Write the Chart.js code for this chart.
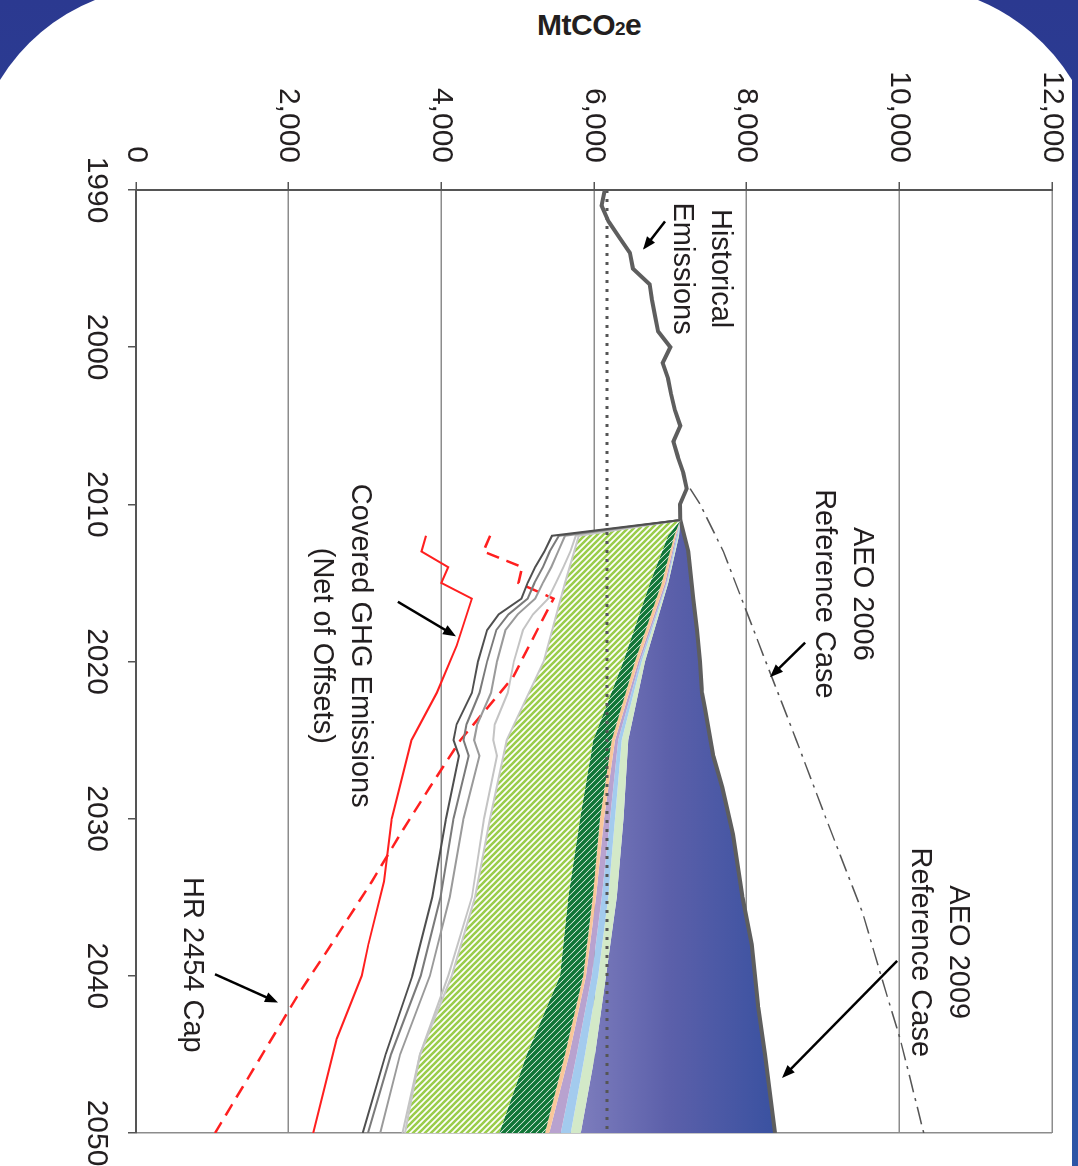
<!DOCTYPE html>
<html>
<head>
<meta charset="utf-8">
<script src="https://cdn.jsdelivr.net/npm/chart.js@4.4.1/dist/chart.umd.min.js"></script>
<style>
  html, body { margin: 0; padding: 0; }
  body { width: 1078px; height: 1166px; position: relative; overflow: hidden; background: #fff;
         font-family: 'Liberation Sans', Arial, sans-serif; }
  #bg { position: absolute; left: 0; top: 0; }
  #title { position: absolute; left: 537px; top: 10px; font-weight: bold; font-size: 30px; line-height: 30px;
           color: #231f20; letter-spacing: -0.5px; white-space: nowrap; }
  #title span { font-size: 19px; }
  #wrap { position: absolute; left: 1078px; top: 0; width: 1166px; height: 1078px;
          transform-origin: 0 0; transform: rotate(90deg); }
</style>
</head>
<body>
<svg id="bg" width="1078" height="1166">
  <defs>
    <linearGradient id="edge" x1="0" y1="0" x2="0" y2="1">
      <stop offset="0" stop-color="#2b3990"/>
      <stop offset="1" stop-color="#2d55a6"/>
    </linearGradient>
  </defs>
  <rect x="0" y="0" width="1078" height="1166" fill="url(#edge)"/>
  <path d="M0 80 A196 196 0 0 1 95 0 L978 0 A200 200 0 0 1 1072 80 L1072 1166 L0 1166 Z" fill="#fff"/>
</svg>
<div id="title">MtCO<span>2</span>e</div>
<div id="wrap"><canvas id="ghgChart" width="1166" height="1078"></canvas></div>

<script>
// historical emissions
const histYears = [1990, 1991, 1992, 1993, 1994, 1995, 1996, 1997, 1998, 1999, 2000,
                   2001, 2002, 2003, 2004, 2005, 2006, 2007, 2008, 2009, 2010, 2011];
const histValues = [6140, 6100, 6190, 6330, 6470, 6510, 6730, 6760, 6800, 6840, 7000,
                    6900, 6970, 7010, 7060, 7130, 7040, 7100, 7170, 7215, 7127, 7130];

// AEO 2009 reference case (top of the wedges)
const refYears = [2011, 2013, 2016, 2018, 2020, 2022, 2023, 2026, 2028, 2031, 2035, 2038, 2042, 2045, 2050];
const refValues = [7130, 7236, 7300, 7350, 7389, 7415, 7455, 7563, 7680, 7820, 7945, 8066, 8153, 8240, 8371];

// AEO 2006 reference case
const aeo06Years = [2009, 2010, 2013, 2020, 2025, 2030, 2036, 2040, 2044, 2050];
const aeo06Values = [7260, 7390, 7695, 8250, 8650, 9040, 9520, 9760, 10010, 10320];

// 1990 level
const levelYears = [1990, 2050];
const levelValues = [6170, 6170];

// wedge boundaries, low to high
const stackYears = [2011, 2012, 2015, 2020, 2025, 2030, 2035, 2040, 2045, 2050];
const hatchLow     = [7130, 5800, 5620, 5340, 4856, 4638, 4441, 4136, 3721, 3524];
const lightDark    = [7130, 6970, 6734, 6384, 5990, 5817, 5664, 5555, 5118, 4760];
const darkOrange   = [7130, 7050, 6887, 6537, 6231, 6079, 5982, 5860, 5620, 5358];
const orangePurple = [7130, 7070, 6930, 6581, 6275, 6131, 6026, 5895, 5677, 5415];
const purpleBlue   = [7130, 7085, 6950, 6603, 6319, 6210, 6101, 5970, 5773, 5564];
const blueGreen    = [7130, 7100, 6960, 6625, 6363, 6275, 6188, 6056, 5882, 5695];
const greenTop     = [7130, 7115, 6974, 6668, 6450, 6385, 6297, 6157, 6013, 5826];

// scenario lines (grey)
const scenYears = [2011, 2012, 2013, 2014, 2015, 2016, 2017, 2018, 2020, 2022, 2024, 2025, 2026, 2030, 2035, 2040, 2045, 2050];
const scenA = [7130, 5450, 5350, 5230, 5130, 5050, 4750, 4600, 4480, 4400, 4200, 4160, 4230, 4060, 3880, 3620, 3270, 2970];
const scenB = [7130, 5540, 5420, 5330, 5220, 5130, 4880, 4720, 4600, 4500, 4330, 4290, 4360, 4160, 3990, 3730, 3340, 3040];
const scenC = [7130, 5620, 5530, 5440, 5330, 5230, 5000, 4840, 4730, 4650, 4470, 4430, 4500, 4290, 4110, 3850, 3460, 3200];
const scenD = [7130, 5760, 5690, 5600, 5500, 5400, 5200, 5070, 4950, 4870, 4700, 4680, 4730, 4560, 4400, 4090, 3720, 3490];

// covered GHG emissions (net of offsets)
const covYears = [2012, 2013, 2014, 2015, 2016, 2019, 2022, 2025, 2030, 2034, 2038, 2040, 2044, 2050];
const covValues = [3800, 3740, 4090, 4000, 4400, 4200, 3940, 3610, 3350, 3250, 3044, 2957, 2630, 2323];

// HR 2454 cap
const capYears = [2012, 2013, 2014, 2015, 2016, 2019, 2021, 2025, 2028, 2031, 2034, 2038, 2041, 2050];
const capValues = [4640, 4550, 5060, 5010, 5470, 5150, 4940, 4250, 3850, 3460, 3090, 2560, 2150, 1035];

const yearTicks = [1990, 2000, 2010, 2020, 2030, 2040, 2050];

// labels placed in data units: [year, value]
const notes = [
    { lines: ['Historical', 'Emissions'], at: [1995.0, 7651], arrow: [[1992.0, 6930], [1993.8, 6642]] },
    { lines: ['AEO 2006', 'Reference Case'], at: [2015.7, 9511], arrow: [[2018.8, 8765], [2021.0, 8306]] },
    { lines: ['AEO 2009', 'Reference Case'], at: [2038.5, 10769], arrow: [[2039.05, 9970], [2046.5, 8463]] },
    { lines: ['Covered GHG Emissions', '(Net of Offsets)'], at: [2019.0, 2935], arrow: [[2016.2, 3432], [2018.4, 4192]] },
    { lines: ['HR 2454 Cap'], at: [2039.3, 734], arrow: [[2039.9, 1035], [2041.7, 1860]] }
];

const pts = (xs, ys) => xs.map((x, i) => ({ x, y: ys[i] }));

const makeHatch = (bg, fg, width) => {
    const s = 6;
    const c = document.createElement('canvas');
    c.width = s; c.height = s;
    const g = c.getContext('2d');
    g.fillStyle = bg;
    g.fillRect(0, 0, s, s);
    g.strokeStyle = fg;
    g.lineWidth = width;
    g.beginPath();
    for (let k = -1; k <= 1; k++) {
        g.moveTo(k * s - 1, -1);
        g.lineTo(k * s + s + 1, s + 1);
    }
    g.stroke();
    return g.createPattern(c, 'repeat');
};

const notesPlugin = {
    id: 'notes',
    afterDraw(chart) {
        const { ctx, scales: { x, y } } = chart;
        ctx.save();
        ctx.font = "29px 'Liberation Sans', Arial, sans-serif";
        ctx.textAlign = 'center';
        ctx.textBaseline = 'middle';
        notes.forEach(n => {
            const cx = x.getPixelForValue(n.at[0]);
            const cy = y.getPixelForValue(n.at[1]);
            ctx.fillStyle = '#231f20';
            n.lines.forEach((t, i) => ctx.fillText(t, cx, cy + i * 38));
            const [a, b] = n.arrow;
            const x0 = x.getPixelForValue(a[0]), y0 = y.getPixelForValue(a[1]);
            const x1 = x.getPixelForValue(b[0]), y1 = y.getPixelForValue(b[1]);
            const ang = Math.atan2(y1 - y0, x1 - x0);
            ctx.strokeStyle = '#000';
            ctx.lineWidth = 2.5;
            ctx.beginPath();
            ctx.moveTo(x0, y0);
            ctx.lineTo(x1 - 8 * Math.cos(ang), y1 - 8 * Math.sin(ang));
            ctx.stroke();
            ctx.fillStyle = '#000';
            ctx.beginPath();
            ctx.moveTo(x1, y1);
            ctx.lineTo(x1 - 14 * Math.cos(ang - 0.38), y1 - 14 * Math.sin(ang - 0.38));
            ctx.lineTo(x1 - 14 * Math.cos(ang + 0.38), y1 - 14 * Math.sin(ang + 0.38));
            ctx.closePath();
            ctx.fill();
        });
        ctx.restore();
    }
};

const initChart = () => {
    const canvas = document.getElementById('ghgChart');
    const ctx = canvas.getContext('2d');

    const lightHatch = makeHatch('#ffffff', '#9bcd4c', 2.6);
    const darkHatch = makeHatch('#ffffff', '#0f7536', 3.6);

    const blueFill = (context) => {
        const chart = context.chart;
        const ys = chart.scales.y;
        if (!chart.chartArea || !ys) return '#5a62aa';
        const g = chart.ctx.createLinearGradient(0, ys.getPixelForValue(8400), 0, ys.getPixelForValue(5800));
        g.addColorStop(0, '#3951a0');
        g.addColorStop(0.55, '#5c60aa');
        g.addColorStop(1, '#7d7dbd');
        return g;
    };

    const area = (data, bg) => ({
        data, backgroundColor: bg, fill: '-1', borderWidth: 0, order: 2
    });
    const line = (data, color, width, dash) => ({
        data, borderColor: color, borderWidth: width, borderDash: dash || [], fill: false, order: 1
    });

    new Chart(ctx, {
        type: 'line',
        data: {
            datasets: [
                { data: pts(stackYears, hatchLow), borderColor: '#c8c8c8', borderWidth: 2, fill: false, order: 2 },
                area(pts(stackYears, lightDark), lightHatch),
                area(pts(stackYears, darkOrange), darkHatch),
                area(pts(stackYears, orangePurple), '#f9c79a'),
                area(pts(stackYears, purpleBlue), '#b8a2cf'),
                area(pts(stackYears, blueGreen), '#a3cbee'),
                area(pts(stackYears, greenTop), '#d3e9c8'),
                { data: pts(refYears, refValues), backgroundColor: blueFill, fill: '-1',
                  borderColor: '#5e5e5e', borderWidth: 4, order: 2 },
                line(pts(histYears, histValues), '#5e5e5e', 4),
                line(pts(levelYears, levelValues), '#555555', 3, [3, 6]),
                line(pts(aeo06Years, aeo06Values), '#555555', 1.5, [18, 6, 3, 6]),
                line(pts(scenYears, scenA), '#4f4f4f', 2),
                line(pts(scenYears, scenB), '#7a7a7a', 2),
                line(pts(scenYears, scenC), '#9a9a9a', 2),
                line(pts(scenYears, scenD), '#c4c4c4', 2),
                line(pts(covYears, covValues), '#ff1f1f', 2),
                line(pts(capYears, capValues), '#ff1f1f', 2.5, [13, 8])
            ]
        },
        options: {
            responsive: false,
            animation: false,
            events: [],
            layout: { padding: { top: 26, right: 33, left: 0, bottom: 0 }, autoPadding: false },
            elements: { point: { radius: 0 }, line: { tension: 0, borderCapStyle: 'butt' } },
            plugins: { legend: { display: false }, tooltip: { enabled: false } },
            scales: {
                x: {
                    type: 'linear', min: 1990, max: 2050,
                    afterBuildTicks: (s) => { s.ticks = yearTicks.map(v => ({ value: v })); },
                    afterFit: (s) => { s.height = 136; s.paddingLeft = 0; s.paddingRight = 0; },
                    ticks: {
                        callback: (v) => String(v), maxRotation: 0, autoSkip: false,
                        font: { family: "'Liberation Sans', Arial, sans-serif", size: 30 },
                        color: '#231f20', padding: 14
                    },
                    grid: {
                        color: (c) => (c.tick && c.tick.value === 2050 ? '#8c8c8c' : 'rgba(0,0,0,0)'),
                        lineWidth: 1.5, tickColor: '#555555', tickLength: 8
                    },
                    border: { color: '#555555', width: 2 }
                },
                y: {
                    type: 'linear', min: 0, max: 12000,
                    afterFit: (s) => { s.width = 190; s.paddingTop = 0; s.paddingBottom = 0; },
                    ticks: {
                        stepSize: 2000, callback: (v) => v.toLocaleString('en-US'),
                        font: { family: "'Liberation Sans', Arial, sans-serif", size: 30 },
                        color: '#231f20', padding: 19
                    },
                    grid: { color: '#8c8c8c', lineWidth: 1.5, tickColor: '#555555', tickLength: 8 },
                    border: { color: '#555555', width: 2 }
                }
            }
        },
        plugins: [notesPlugin]
    });
};

initChart();
</script>
</body>
</html>
